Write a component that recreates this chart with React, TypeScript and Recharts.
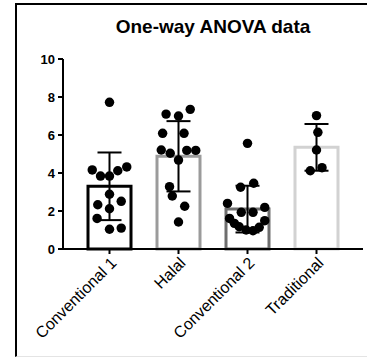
import { ComposedChart, Bar, Cell, ErrorBar, Scatter, XAxis, YAxis, ZAxis } from 'recharts'

const groups = ['Conventional 1', 'Halal', 'Conventional 2', 'Traditional']
const means = [3.3, 4.88, 2.1, 5.35]
const sds = [1.78, 1.85, 1.23, 1.23]
const yTicks = [0, 2, 4, 6, 8, 10]

// individual observations per group, with the horizontal spread of each dot (fraction of a category)
const conv1Values = [7.72, 4.16, 3.84, 3.84, 4.12, 4.32, 2.88, 2.33, 2.51, 2.12, 1.61, 1.04, 1.1]
const conv1Jitter = [0, -0.25, -0.13, 0, 0.12, 0.25, 0, -0.17, 0.17, 0, -0.18, 0, 0.17]
const halalValues = [7.1, 7.0, 7.35, 6.09, 6.09, 5.21, 5.04, 5.19, 5.19, 4.68, 3.28, 2.79, 2.25, 1.42]
const halalJitter = [-0.18, 0, 0.17, -0.23, 0.08, -0.25, -0.12, 0.12, 0.25, 0, -0.13, -0.09, 0.09, 0]
const conv2Values = [5.56, 3.25, 3.46, 2.4, 1.93, 1.93, 2.19, 1.61, 1.49, 1.35, 1.17, 1.0, 0.96, 1.14]
const conv2Jitter = [0, -0.1, 0.09, -0.29, -0.09, 0.08, 0.25, -0.26, 0.25, -0.19, -0.12, -0.02, 0.08, 0.17]
const tradValues = [7.02, 6.14, 5.21, 4.12, 4.28]
const tradJitter = [0, 0.02, 0, -0.09, 0.08]

const borderColors = ['#000000', '#9b9b9b', '#6e6e6e', '#d2d2d2']

const barData = groups.map((name, i) => ({ name, mean: means[i], sd: sds[i] }))

const pointGroups = [
  [conv1Values, conv1Jitter],
  [halalValues, halalJitter],
  [conv2Values, conv2Jitter],
  [tradValues, tradJitter],
]
const points = pointGroups.flatMap(([vals, jit], g) =>
  vals.map((y, i) => ({ x: g + jit[i], y }))
)

const font = '"Liberation Sans", Arial, sans-serif'

export default function App() {
  return (
    <div style={{ position: 'fixed', left: 0, top: 0, width: 367, height: 358, background: '#fff', fontFamily: font }}>
      <div
        style={{
          position: 'absolute', left: 15, top: 3, width: 352, height: 354,
          borderTop: '2px solid #000', borderLeft: '2px solid #000', borderBottom: '1px solid #e4e4e4',
          boxSizing: 'border-box',
        }}
      />
      <div
        style={{
          position: 'absolute', left: 63, top: 17, width: 300, textAlign: 'center',
          fontSize: 19, lineHeight: '19px', fontWeight: 'bold', color: '#000',
        }}
      >
        One-way ANOVA data
      </div>
      <div style={{ position: 'absolute', left: 0, top: 0 }}>
        <ComposedChart width={367} height={358} data={barData} margin={{ top: 59, right: 4, bottom: 0, left: 0 }}>
          <XAxis
            dataKey="name"
            type="category"
            height={109}
            padding={{ left: 12, right: 12 }}
            axisLine={{ stroke: '#000', strokeWidth: 2 }}
            tickLine={{ stroke: '#000', strokeWidth: 2 }}
            tickSize={5}
            interval={0}
            angle={-45}
            textAnchor="end"
            tick={{ fontSize: 16, fill: '#000', fontFamily: font }}
          />
          <XAxis xAxisId="jit" dataKey="x" type="number" domain={[-0.5, 3.5]} padding={{ left: 12, right: 12 }} hide />
          <YAxis
            type="number"
            domain={[0, 10]}
            ticks={yTicks}
            width={63}
            axisLine={{ stroke: '#000', strokeWidth: 2 }}
            tickLine={{ stroke: '#000', strokeWidth: 2 }}
            tickSize={5}
            tickMargin={3}
            tick={{ fontSize: 13, fontWeight: 'bold', fill: '#000', fontFamily: font }}
          />
          <ZAxis range={[70, 70]} />
          <Bar dataKey="mean" barSize={43} fill="#fff" strokeWidth={3} isAnimationActive={false}>
            {barData.map((d, i) => (
              <Cell key={d.name} fill="#fff" stroke={borderColors[i]} />
            ))}
            <ErrorBar dataKey="sd" width={12} stroke="#000" strokeWidth={2} direction="y" />
          </Bar>
          <Scatter xAxisId="jit" data={points} dataKey="y" fill="#000" isAnimationActive={false} />
        </ComposedChart>
      </div>
    </div>
  )
}
